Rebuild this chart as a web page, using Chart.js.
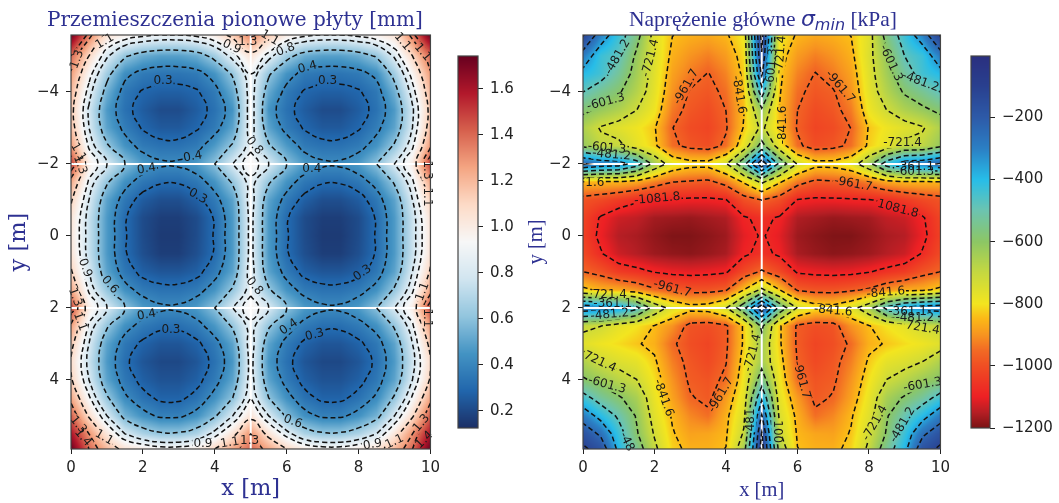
<!DOCTYPE html>
<html>
<head>
<meta charset="utf-8">
<title>Przemieszczenia i naprężenia płyty</title>
<script src="https://cdn.jsdelivr.net/npm/chart.js@4"></script>
<style>
html,body{margin:0;padding:0;background:#fff;}
#page{position:relative;width:1059px;height:503px;overflow:hidden;filter:blur(0.4px);}
.box{position:absolute;top:0;height:503px;}
</style>
</head>
<body>
<div id="page">
  <div class="box" style="left:0;width:445px"><canvas id="dispChart"></canvas></div>
  <div class="box" style="left:445px;width:85px"><canvas id="dispBar"></canvas></div>
  <div class="box" style="left:520px;width:435px"><canvas id="stressChart"></canvas></div>
  <div class="box" style="left:960px;width:99px"><canvas id="stressBar"></canvas></div>
</div>
<script>
const INK='#222222', FRAME='#444444', TITLE='#2e3192';
const $ = id => document.getElementById(id);

const gridX = [0,0.5,1,1.5,2,2.5,3,3.5,4,4.5,5,5.5,6,6.5,7,7.5,8,8.5,9,9.5,10];
const gridY = [-5.58,-5,-4.5,-4,-3.5,-3,-2.5,-2,-1.5,-1,-0.5,0,0.5,1,1.5,2,2.5,3,3.5,4,4.5,5,5.5,5.92];
const xTicks = [0,2,4,6,8,10];
const yTicks = [-4,-2,0,2,4];
const beamsX = [5];
const beamsY = [-2,2];

/* one list per x column, top to bottom */
const dispColumns = [
  [1.74,1.4,1.28,1.2,1.15,1.18,1.28,1.5,1.25,1.12,1.05,1.03,1.05,1.12,1.25,1.48,1.28,1.15,1.08,1.12,1.25,1.42,1.6,1.74],
  [1.35,1.1,.95,.85,.78,.8,.88,1,.88,.8,.75,.75,.75,.8,.88,1,.88,.8,.76,.8,.92,1.08,1.3,1.4],
  [1.05,.82,.65,.54,.47,.5,.62,.8,.62,.5,.47,.47,.47,.5,.62,.8,.62,.5,.47,.5,.62,.8,1.03,1.2],
  [.98,.62,.43,.35,.33,.37,.45,.6,.44,.35,.31,.31,.31,.35,.44,.6,.44,.35,.32,.35,.42,.55,.8,1.05],
  [.93,.53,.36,.29,.26,.29,.36,.47,.35,.26,.21,.21,.22,.27,.36,.47,.36,.28,.24,.27,.33,.44,.68,1],
  [.9,.49,.34,.27,.21,.25,.33,.42,.31,.22,.17,.16,.17,.24,.33,.42,.32,.24,.2,.23,.28,.38,.62,.95],
  [.9,.49,.34,.27,.21,.25,.33,.42,.31,.22,.17,.16,.17,.24,.33,.42,.32,.24,.2,.23,.28,.38,.62,.95],
  [.93,.53,.36,.29,.26,.29,.36,.47,.35,.27,.21,.21,.22,.27,.36,.47,.36,.28,.24,.27,.33,.44,.68,1],
  [1,.65,.45,.36,.33,.36,.47,.6,.45,.36,.31,.31,.31,.36,.45,.6,.46,.36,.33,.36,.44,.58,.85,1.1],
  [1.15,.85,.62,.52,.45,.5,.62,.8,.62,.5,.47,.47,.47,.5,.62,.8,.62,.5,.46,.5,.6,.8,1.05,1.25],
  [1.35,1.05,.9,.87,.88,.87,.86,.98,.86,.87,.85,.85,.85,.87,.86,.98,.86,.87,.85,.86,.9,1.05,1.3,1.4],
  [1.15,.85,.62,.52,.45,.5,.62,.8,.62,.5,.47,.47,.47,.5,.62,.8,.62,.5,.46,.5,.6,.8,1.05,1.25],
  [1,.65,.45,.36,.33,.36,.47,.6,.45,.36,.31,.31,.31,.36,.45,.6,.46,.36,.33,.36,.44,.58,.85,1.1],
  [.93,.53,.36,.29,.26,.29,.36,.47,.35,.27,.21,.21,.22,.27,.36,.47,.36,.28,.24,.27,.33,.44,.68,1],
  [.9,.49,.34,.27,.21,.25,.33,.42,.31,.22,.17,.16,.17,.24,.33,.42,.32,.24,.2,.23,.28,.38,.62,.95],
  [.9,.49,.34,.27,.21,.25,.33,.42,.31,.22,.17,.16,.17,.24,.33,.42,.32,.24,.2,.23,.28,.38,.62,.95],
  [.93,.53,.36,.29,.26,.29,.36,.47,.35,.26,.21,.21,.22,.27,.36,.47,.36,.28,.24,.27,.33,.44,.68,1],
  [.98,.62,.43,.35,.33,.37,.45,.6,.44,.35,.31,.31,.31,.35,.44,.6,.44,.35,.32,.35,.42,.55,.8,1.05],
  [1.05,.82,.65,.54,.47,.5,.62,.8,.62,.5,.47,.47,.47,.5,.62,.8,.62,.5,.47,.5,.62,.8,1.03,1.2],
  [1.35,1.1,.95,.85,.78,.8,.88,1,.88,.8,.75,.75,.75,.8,.88,1,.88,.8,.76,.8,.92,1.08,1.3,1.4],
  [1.74,1.4,1.28,1.2,1.15,1.18,1.28,1.5,1.25,1.12,1.05,1.03,1.05,1.12,1.25,1.48,1.28,1.15,1.08,1.12,1.25,1.42,1.6,1.74]
];
const stressColumns = [
  [-110,-290,-395,-480,-580,-660,-620,-230,-850,-990,-1020,-1030,-1010,-960,-820,-280,-700,-760,-660,-590,-440,-290,-170,-100],
  [-300,-430,-440,-540,-620,-730,-690,-280,-850,-1010,-1090,-1100,-1075,-990,-860,-300,-720,-790,-720,-630,-530,-400,-260,-170],
  [-430,-480,-530,-590,-660,-760,-700,-300,-850,-1040,-1130,-1150,-1130,-1040,-870,-340,-770,-810,-750,-680,-590,-500,-430,-390],
  [-560,-620,-640,-670,-720,-790,-770,-420,-870,-1070,-1140,-1160,-1150,-1060,-900,-450,-800,-835,-770,-720,-650,-610,-590,-540],
  [-760,-750,-760,-770,-790,-835,-825,-640,-920,-1085,-1165,-1180,-1170,-1085,-950,-650,-845,-860,-830,-805,-780,-760,-730,-700],
  [-840,-860,-880,-900,-930,-960,-945,-770,-960,-1090,-1170,-1195,-1180,-1100,-975,-760,-900,-950,-925,-900,-880,-850,-835,-820],
  [-860,-900,-930,-968,-985,-1005,-985,-810,-970,-1095,-1175,-1195,-1185,-1105,-990,-810,-990,-1000,-985,-975,-955,-915,-880,-860],
  [-870,-925,-965,-985,-1005,-1020,-1000,-810,-980,-1095,-1165,-1185,-1175,-1100,-990,-800,-1000,-1020,-1010,-990,-980,-945,-875,-860],
  [-850,-890,-920,-945,-961,-970,-945,-730,-930,-1085,-1155,-1170,-1160,-1090,-970,-730,-975,-975,-965,-945,-890,-860,-850,-840],
  [-790,-810,-825,-835,-845,-835,-780,-520,-830,-1000,-1090,-1110,-1095,-1010,-840,-520,-830,-830,-810,-790,-770,-745,-710,-650],
  [-80,-130,-220,-420,-620,-700,-560,-150,-700,-960,-1065,-1075,-1060,-950,-700,-150,-580,-640,-640,-540,-380,-230,-110,-70],
  [-790,-810,-825,-835,-845,-835,-780,-520,-830,-1000,-1090,-1110,-1095,-1010,-840,-520,-830,-830,-810,-790,-770,-745,-710,-650],
  [-850,-890,-920,-945,-961,-970,-945,-730,-930,-1085,-1155,-1170,-1160,-1090,-970,-730,-975,-975,-965,-945,-890,-860,-850,-840],
  [-870,-925,-965,-985,-1005,-1020,-1000,-810,-980,-1095,-1165,-1185,-1175,-1100,-990,-800,-1000,-1020,-1010,-990,-980,-945,-875,-860],
  [-860,-900,-930,-968,-985,-1005,-985,-810,-970,-1095,-1175,-1195,-1185,-1105,-990,-810,-990,-1000,-985,-975,-955,-915,-880,-860],
  [-840,-860,-880,-900,-930,-960,-945,-770,-960,-1090,-1170,-1195,-1180,-1100,-975,-760,-900,-950,-925,-900,-880,-850,-835,-820],
  [-760,-750,-760,-770,-790,-835,-825,-640,-920,-1085,-1165,-1180,-1170,-1085,-950,-650,-845,-860,-830,-805,-780,-760,-730,-700],
  [-560,-620,-640,-670,-720,-790,-770,-420,-870,-1070,-1140,-1160,-1150,-1060,-900,-450,-800,-835,-770,-720,-650,-610,-590,-540],
  [-430,-480,-530,-590,-660,-760,-700,-300,-850,-1040,-1130,-1150,-1130,-1040,-870,-340,-770,-810,-750,-680,-590,-500,-430,-390],
  [-300,-430,-440,-540,-620,-730,-690,-280,-850,-1010,-1090,-1100,-1075,-990,-860,-300,-720,-790,-720,-630,-530,-400,-260,-170],
  [-110,-290,-395,-480,-580,-660,-620,-230,-850,-990,-1020,-1030,-1010,-960,-820,-280,-700,-760,-660,-590,-440,-290,-170,-100]
];

const dispLevels = [0.3,0.4,0.6,0.8,0.9,1.1,1.3,1.4];
const stressLevels = [-1081.8,-961.7,-841.6,-721.4,-601.3,-481.2,-361.1,-240.9,-120.8];

const dispBarTicks = [0.2,0.4,0.6,0.8,1,1.2,1.4,1.6];
const stressBarTicks = [-200,-400,-600,-800,-1000,-1200];

/* [value, colour] */
const dispStops = [[0.126,'#1c2f66'],[0.288,'#2166ac'],[0.449,'#4393c3'],[0.611,'#92c5de'],[0.773,'#d1e5f0'],[0.935,'#f7f7f7'],[1.096,'#fddbc7'],[1.258,'#f4a582'],[1.42,'#d6604d'],[1.581,'#b2182b'],[1.743,'#67001f']];
const stressStops = [[-1200,'#7a1315'],[-1150,'#b51e24'],[-1100,'#ed2024'],[-1000,'#f04e23'],[-950,'#f26a24'],[-900,'#f79420'],[-850,'#fbb717'],[-800,'#f3e51f'],[-700,'#c5d840'],[-600,'#8cc665'],[-500,'#6cc4b0'],[-400,'#27bde8'],[-300,'#2b7fc4'],[-200,'#2d5aa8'],[-100,'#29408f'],[-2,'#2a2f7f']];

/* contour labels: x, y, rotation, text */
const dispLabels = [
  [2.56,-4.3,0,'0.3'],[3.39,-2.2,-10,'0.4'],[2.1,-1.86,-10,'0.4'],[3.53,-1.1,30,'0.3'],[4.47,-5.25,25,'0.9'],[4.92,-5.4,0,'1.3'],
  [0.94,-5.4,-30,'1.1'],[0.17,-4.9,-70,'1.3'],[0.2,-2.33,60,'1.1'],[0.25,-1.97,70,'1.3'],
  [5.53,-5.5,30,'1.1'],[5.97,-5.17,-20,'0.8'],[6.58,-4.68,-15,'0.4'],[7.14,-4.3,0,'0.3'],[9.22,-5.4,50,'1.1'],[9.78,-5.1,50,'1.1'],
  [5.1,-2.5,50,'0.8'],[6.7,-1.86,0,'0.4'],[9.9,-1.83,90,'1.3'],[9.9,-1.08,90,'1.1'],
  [0.39,0.89,70,'0.9'],[1.08,1.36,50,'0.6'],[0.11,1.7,70,'1.3'],[0.25,2.38,70,'1.1'],[2.1,2.2,-10,'0.4'],[2.78,2.6,0,'0.3'],[5.1,1.4,50,'0.8'],
  [0.2,5.25,50,'1.3'],[0.33,5.6,50,'1.4'],[0.92,5.6,30,'1.1'],[3.67,5.78,0,'0.9'],[4.42,5.75,-10,'1.1'],[4.97,5.7,0,'1.3'],
  [8.11,1.03,-35,'0.3'],[9.78,1.55,-70,'1.1'],[9.9,2.28,90,'1.1'],[6.06,2.53,-35,'0.4'],[6.78,2.75,-15,'0.3'],[6.17,5.16,20,'0.6'],
  [8.39,5.8,-10,'0.9'],[9,5.72,-25,'1.1'],[9.75,5.2,-50,'1.3'],[9.83,5.67,-45,'1.4']
];
const stressLabels = [
  [0.97,-4.97,-60,'-481.2'],[1.89,-4.94,-75,'-721.4'],[2.89,-4.14,-60,'-961.7'],[4.36,-3.92,80,'-841.6'],[0.64,-3.72,-15,'-601.3'],
  [0.67,-2.44,5,'-601.3'],[0.8,-2.25,5,'-481.2'],[2.08,-1.03,-5,'-1081.8'],[0.33,-1.47,0,'1.6'],[5.28,-4.67,-85,'-601.3'],[5.53,-5.03,-85,'-721.4'],
  [7.19,-4.14,50,'-961.7'],[8.61,-4.8,65,'-601.3'],[9.44,-4.28,20,'-481.2'],[5.58,-3.08,-90,'-841.6'],[8.94,-2.58,0,'-721.4'],
  [9.28,-1.92,0,'-361.1'],[9.28,-1.78,0,'-601.3'],[7.56,-1.44,10,'-961.7'],[8.81,-0.75,15,'1081.8'],
  [2.5,1.47,15,'-961.7'],[0.75,1.64,0,'721.4'],[0.83,1.89,0,'-361.1'],[0.75,2.19,-5,'-481.2'],[0.47,3.5,25,'721.4'],[0.67,4.14,15,'-601.3'],
  [2.25,4.5,70,'-841.6'],[3.86,4.42,-60,'-961.7'],[4.75,3.25,-75,'-721.4'],[1.22,5.72,65,'-48'],[4.7,5.11,-90,'481'],
  [7,2.08,5,'-841.6'],[8.47,1.58,-5,'-841.6'],[9.08,2.11,0,'-361.1'],[9.28,2.28,0,'-481.2'],[9.5,2.56,10,'721.4'],
  [6.11,4,75,'-961.7'],[9.5,4.14,-10,'-601.3'],[8.17,5.2,-60,'-721.4'],[8.94,5.25,-60,'-481.2'],[5.42,5.44,90,'100']
];

const hex = h => [1,3,5].map(i => parseInt(h.substr(i,2),16));

function colorAt(stops, v){
  if(v<=stops[0][0]) return hex(stops[0][1]);
  for(let i=1;i<stops.length;i++){
    if(v<=stops[i][0]){
      const t=(v-stops[i-1][0])/(stops[i][0]-stops[i-1][0]);
      const a=hex(stops[i-1][1]), b=hex(stops[i][1]);
      return a.map((c,k)=>c+(b[k]-c)*t);
    }
  }
  return hex(stops[stops.length-1][1]);
}

function sampleGrid(cols, x, y){
  let i=0, j=0;
  while(i<gridX.length-2 && x>gridX[i+1]) i++;
  while(j<gridY.length-2 && y>gridY[j+1]) j++;
  const tx=Math.min(1,Math.max(0,(x-gridX[i])/(gridX[i+1]-gridX[i])));
  const ty=Math.min(1,Math.max(0,(y-gridY[j])/(gridY[j+1]-gridY[j])));
  const top=cols[i][j]*(1-tx)+cols[i+1][j]*tx;
  const bot=cols[i][j+1]*(1-tx)+cols[i+1][j+1]*tx;
  return top*(1-ty)+bot*ty;
}

/* marching squares over the typed grid, chained to polylines split by null points */
function contourPoints(cols, level){
  const segs=[];
  const cross=(x1,y1,v1,x2,y2,v2)=>{
    const t=(level-v1)/(v2-v1);
    return {x:x1+(x2-x1)*t,y:y1+(y2-y1)*t};
  };
  for(let i=0;i<gridX.length-1;i++){
    for(let j=0;j<gridY.length-1;j++){
      const x0=gridX[i],x1=gridX[i+1],y0=gridY[j],y1=gridY[j+1];
      const a=cols[i][j],b=cols[i+1][j],c=cols[i+1][j+1],d=cols[i][j+1];
      const p=[];
      if((a<level)!==(b<level)) p.push(cross(x0,y0,a,x1,y0,b));
      if((b<level)!==(c<level)) p.push(cross(x1,y0,b,x1,y1,c));
      if((c<level)!==(d<level)) p.push(cross(x1,y1,c,x0,y1,d));
      if((d<level)!==(a<level)) p.push(cross(x0,y1,d,x0,y0,a));
      if(p.length===2) segs.push([p[0],p[1]]);
      if(p.length===4){
        if(((a+b+c+d)/4<level)===(a<level)){ segs.push([p[0],p[1]]); segs.push([p[2],p[3]]); }
        else { segs.push([p[3],p[0]]); segs.push([p[1],p[2]]); }
      }
    }
  }
  const key=q=>q.x.toFixed(4)+','+q.y.toFixed(4);
  const ends={};
  segs.forEach((s,n)=>s.forEach(q=>{(ends[key(q)]=ends[key(q)]||[]).push(n);}));
  const used=segs.map(()=>false), out=[];
  const walk=(line,end)=>{
    for(;;){
      const next=(ends[key(end)]||[]).find(n=>!used[n]);
      if(next===undefined) return;
      used[next]=true;
      end=key(segs[next][0])===key(end)?segs[next][1]:segs[next][0];
      line.push(end);
    }
  };
  segs.forEach((s,n)=>{
    if(used[n]) return;
    used[n]=true;
    const fwd=[s[0],s[1]];
    walk(fwd,s[1]);
    const back=[];
    walk(back,s[0]);
    back.reverse().concat(fwd).forEach(q=>out.push(q));
    out.push({x:null,y:null});
  });
  return out;
}

function labelBox(chart, lab){
  const ctx=chart.ctx;
  ctx.font="12px 'DejaVu Sans'";
  const w=ctx.measureText(lab[3]).width/2+1, h=5.5;
  const cx=chart.scales.x.getPixelForValue(lab[0]), cy=chart.scales.y.getPixelForValue(lab[1]);
  const r=lab[2]*Math.PI/180, c=Math.cos(r), s=Math.sin(r);
  return [[-w,-h],[w,-h],[w,h],[-w,h]].map(([u,v])=>[cx+u*c-v*s,cy+u*s+v*c]);
}

const fieldPlugin={
  id:'field',
  beforeDatasetsDraw(chart,args,o){
    const a=chart.chartArea, L=Math.round(a.left), T=Math.round(a.top), W=Math.round(a.right-a.left), H=Math.round(a.bottom-a.top);
    const img=chart.ctx.createImageData(W,H);
    for(let py=0;py<H;py++){
      const y=chart.scales.y.getValueForPixel(T+py+0.5);
      for(let px=0;px<W;px++){
        const x=chart.scales.x.getValueForPixel(L+px+0.5);
        const rgb=colorAt(o.stops,sampleGrid(o.cols,x,y));
        const k=(py*W+px)*4;
        img.data[k]=rgb[0]; img.data[k+1]=rgb[1]; img.data[k+2]=rgb[2]; img.data[k+3]=255;
      }
    }
    chart.ctx.putImageData(img,L,T);
  },
  beforeDatasetDraw(chart,args,o){
    if(!chart.data.datasets[args.index].isContour) return;
    const ctx=chart.ctx;
    ctx.save();
    o.labels.forEach(lab=>{
      const path=new Path2D();
      path.rect(0,0,chart.width,chart.height);
      labelBox(chart,lab).forEach((q,n)=>n?path.lineTo(q[0],q[1]):path.moveTo(q[0],q[1]));
      path.closePath();
      ctx.clip(path,'evenodd');
    });
  },
  afterDatasetDraw(chart,args){
    if(chart.data.datasets[args.index].isContour) chart.ctx.restore();
  },
  afterDatasetsDraw(chart,args,o){
    const ctx=chart.ctx;
    ctx.save();
    ctx.font="12px 'DejaVu Sans'";
    ctx.fillStyle='#1a1a1a';
    ctx.textAlign='center';
    ctx.textBaseline='middle';
    o.labels.forEach(lab=>{
      ctx.save();
      ctx.translate(chart.scales.x.getPixelForValue(lab[0]),chart.scales.y.getPixelForValue(lab[1]));
      ctx.rotate(lab[2]*Math.PI/180);
      ctx.fillText(lab[3],0,0);
      ctx.restore();
    });
    ctx.restore();
  }
};

const framePlugin={
  id:'frame',
  afterDraw(chart){
    const a=chart.chartArea, ctx=chart.ctx;
    ctx.save();
    ctx.strokeStyle=FRAME;
    ctx.lineWidth=1.2;
    ctx.strokeRect(a.left,a.top,a.right-a.left,a.bottom-a.top);
    ctx.restore();
  }
};

const titlePlugin={
  id:'panelTitle',
  afterDraw(chart,args,o){
    if(!o.parts) return;
    const ctx=chart.ctx;
    let x=o.x;
    ctx.save();
    ctx.fillStyle=TITLE;
    ctx.textBaseline='alphabetic';
    o.parts.forEach(p=>{
      ctx.font=p.font;
      ctx.fillText(p.text,x,o.y+(p.dy||0));
      x+=ctx.measureText(p.text).width;
    });
    ctx.restore();
  }
};

const barPlugin={
  id:'bar',
  beforeDatasetsDraw(chart,args,o){
    const a=chart.chartArea, s=chart.scales.y, ctx=chart.ctx;
    for(let py=Math.floor(a.top);py<a.bottom;py++){
      const rgb=colorAt(o.stops,s.getValueForPixel(py+0.5));
      ctx.fillStyle=`rgb(${rgb[0]},${rgb[1]},${rgb[2]})`;
      ctx.fillRect(a.left,py,a.right-a.left,1);
    }
  }
};

function fieldChart(id, opts){
  const contours=opts.levels.map(lv=>({
    label:String(lv), data:contourPoints(opts.cols,lv), isContour:true, showLine:true, spanGaps:false,
    borderColor:'#111111', borderWidth:1.5, borderDash:[5,3], pointRadius:0, tension:opts.tension, order:1
  }));
  const beams=[
    ...beamsY.map(v=>({label:'y'+v,data:[{x:opts.xMin,y:v},{x:opts.xMax,y:v}]})),
    ...beamsX.map(v=>({label:'x'+v,data:[{x:v,y:opts.yMin},{x:v,y:opts.yMax}]}))
  ].map(d=>({...d,showLine:true,borderColor:'#ffffff',borderWidth:2,pointRadius:0,order:2}));
  const fmtTick=v=>String(v).replace('-','\u2212');
  return new Chart($(id),{
    type:'scatter',
    data:{datasets:[...contours,...beams]},
    plugins:[fieldPlugin,framePlugin,titlePlugin],
    options:{
      responsive:true, maintainAspectRatio:false, animation:false, events:[],
      layout:{padding:{top:35,right:opts.padRight,left:0,bottom:0}},
      plugins:{
        legend:{display:false}, tooltip:{enabled:false},
        field:{cols:opts.cols,stops:opts.stops,labels:opts.labels},
        panelTitle:opts.title
      },
      scales:{
        x:{
          type:'linear', min:opts.xMin, max:opts.xMax,
          afterBuildTicks:s=>{s.ticks=xTicks.map(v=>({value:v}));},
          afterFit:s=>{s.height=54;},
          grid:{drawOnChartArea:false,tickLength:5,tickColor:INK,drawTicks:true},
          border:{display:false},
          ticks:{color:INK,font:{family:'DejaVu Sans',size:15},padding:5,maxRotation:0,callback:fmtTick},
          title:{display:true,text:'x [m]',color:TITLE,font:opts.axisFont,padding:{top:1,bottom:0}}
        },
        y:{
          type:'linear', reverse:true, min:opts.yMin, max:opts.yMax,
          afterBuildTicks:s=>{s.ticks=yTicks.map(v=>({value:v}));},
          afterFit:s=>{s.width=opts.axisWidth;},
          grid:{drawOnChartArea:false,tickLength:5,tickColor:INK,drawTicks:true},
          border:{display:false},
          ticks:{color:INK,font:{family:'DejaVu Sans',size:15},padding:7,callback:fmtTick},
          title:{display:true,text:'y [m]',color:TITLE,font:opts.axisFont,padding:{top:opts.yTitlePad,bottom:0}}
        }
      }
    }
  });
}

function colorBar(id, stops, min, max, ticks, padLeft, axisWidth, fmt){
  return new Chart($(id),{
    type:'scatter',
    data:{datasets:[]},
    plugins:[barPlugin,framePlugin],
    options:{
      responsive:true, maintainAspectRatio:false, animation:false, events:[],
      layout:{padding:{top:56,bottom:75,left:padLeft,right:0}},
      plugins:{legend:{display:false},tooltip:{enabled:false},bar:{stops}},
      scales:{
        x:{display:false,min:0,max:1},
        y:{
          type:'linear', position:'right', min, max,
          afterBuildTicks:s=>{s.ticks=ticks.map(v=>({value:v}));},
          afterFit:s=>{s.width=axisWidth;},
          grid:{drawOnChartArea:false,tickLength:5,tickColor:INK},
          border:{display:false},
          ticks:{color:INK,font:{family:'DejaVu Sans',size:15},padding:7,callback:fmt}
        }
      }
    }
  });
}

fieldChart('dispChart',{
  cols:dispColumns, levels:dispLevels, stops:dispStops, labels:dispLabels, tension:0.5,
  xMin:0, xMax:10, yMin:-5.58, yMax:5.92, padRight:14, axisWidth:71, yTitlePad:6,
  axisFont:{family:'DejaVu Serif',size:22.5},
  title:{x:47,y:26,parts:[{text:'Przemieszczenia pionowe płyty [mm]',font:"20px 'DejaVu Serif'"}]}
});
fieldChart('stressChart',{
  cols:stressColumns, levels:stressLevels, stops:stressStops, labels:stressLabels, tension:0,
  xMin:0, xMax:10, yMin:-5.58, yMax:5.92, padRight:12, axisWidth:63, yTitlePad:4,
  axisFont:{family:'Liberation Serif',size:20.5},
  title:{x:109,y:26,parts:[
    {text:'Naprężenie główne ',font:"21.5px 'Liberation Serif'"},
    {text:'σ',font:"italic 22px 'DejaVu Sans'"},
    {text:'min',font:"italic 16px 'DejaVu Sans'",dy:4},
    {text:' [kPa]',font:"21.5px 'Liberation Serif'"}
  ]}
});
colorBar('dispBar',dispStops,0.126,1.743,dispBarTicks,13,52,v=>v.toFixed(1));
colorBar('stressBar',stressStops,-1200,-2,stressBarTicks,11,69,v=>String(v).replace('-','\u2212'));
</script>
</body>
</html>
